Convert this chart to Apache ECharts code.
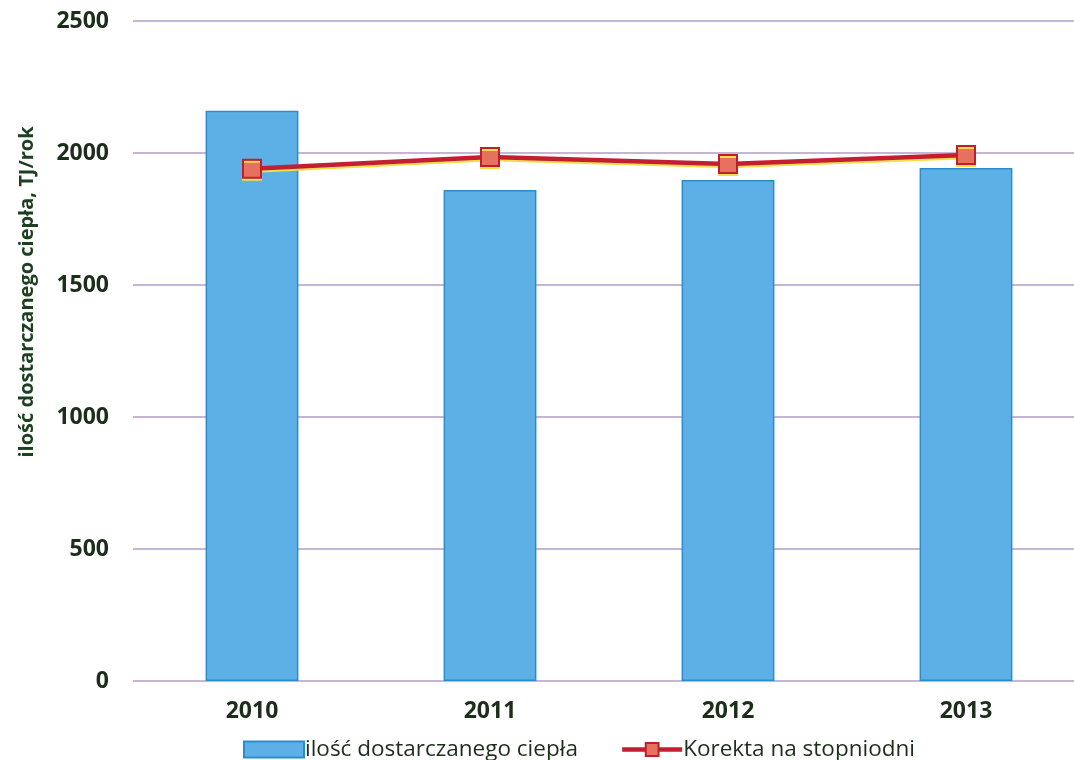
<!DOCTYPE html>
<html>
<head>
<meta charset="utf-8">
<script src="https://cdn.jsdelivr.net/npm/echarts@6/dist/echarts.min.js"></script>
<style>
  html, body { margin: 0; padding: 0; background: #ffffff; overflow: hidden; }
  #chart { width: 1074px; height: 760px; }
</style>
</head>
<body>
<div id="chart"></div>
<script>
// Heat delivered per year and the degree-day corrected value (TJ/rok)
const years = ['2010', '2011', '2012', '2013'];
const heatDelivered = [2160, 1860, 1898, 1943];
const degreeDayCorrected = [1940, 1985, 1958, 1992];
const yTicks = { min: 0, max: 2500, interval: 500 };

const textColor = '#1c2e1a';
const fontFamily = '"Open Sans", "DejaVu Sans", sans-serif';

const chart = echarts.init(document.getElementById('chart'));
chart.setOption({
  backgroundColor: '#ffffff',
  animation: false,
  // the plot runs past the right edge of the page
  grid: { left: 133, right: -11, top: 21, bottom: 79, containLabel: false, outerBoundsMode: 'none' },
  legend: {
    left: 238,
    top: 733,
    itemGap: 42,
    itemWidth: 60,
    itemHeight: 16,
    textStyle: { color: textColor, fontSize: 22.5, fontFamily: fontFamily, padding: [0, 0, 0, -4] },
    data: [
      { name: 'ilość dostarczanego ciepła', icon: 'rect' },
      { name: 'Korekta na stopniodni', lineStyle: { width: 4.5 } }
    ]
  },
  xAxis: {
    type: 'category',
    data: years,
    axisLine: { show: false },
    axisTick: { show: false },
    axisLabel: { color: textColor, fontSize: 23, fontWeight: 'bold', fontFamily: fontFamily, margin: 19 }
  },
  yAxis: {
    type: 'value',
    min: yTicks.min,
    max: yTicks.max,
    interval: yTicks.interval,
    axisLine: { show: false },
    axisTick: { show: false },
    axisLabel: {
      color: textColor, fontSize: 23, fontWeight: 'bold', fontFamily: fontFamily, margin: 24,
      formatter: function (v) { return String(v); }
    },
    splitLine: { show: true, lineStyle: { color: '#b39cc4', width: 1.5 } }
  },
  graphic: [{
    type: 'text',
    x: 27,
    y: 292,
    rotation: Math.PI / 2,
    style: {
      text: 'ilość dostarczanego ciepła, TJ/rok',
      fill: '#1d4020',
      font: 'bold 20px ' + fontFamily,
      textAlign: 'center',
      textVerticalAlign: 'middle'
    }
  }],
  series: [
    {
      name: 'ilość dostarczanego ciepła',
      type: 'bar',
      data: heatDelivered,
      barWidth: '39%',
      itemStyle: { color: '#5cb0e6', borderColor: '#2b8ccc', borderWidth: 1.5 }
    },
    {
      name: 'Korekta na stopniodni',
      type: 'line',
      data: degreeDayCorrected,
      symbol: 'rect',
      symbolSize: 18,
      lineStyle: { color: '#c41e32', width: 4.5, shadowColor: '#f2e04a', shadowOffsetY: 2, shadowBlur: 0 },
      itemStyle: { color: '#e8705e', borderColor: '#c01e2e', borderWidth: 2, shadowColor: '#f2e04a', shadowOffsetY: 2, shadowBlur: 0 }
    }
  ]
});
</script>
</body>
</html>
